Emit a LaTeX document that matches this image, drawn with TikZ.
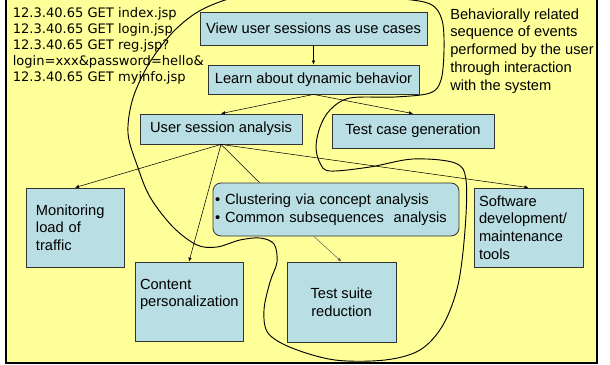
\documentclass[tikz,border=0pt]{standalone}
\usepackage{fontspec}
\setmainfont{Liberation Sans}
\newfontfamily\logfont{DejaVu Sans}
\usetikzlibrary{arrows.meta,calc}
\definecolor{slidebg}{RGB}{255,255,153}
\definecolor{boxblue}{RGB}{185,222,227}
\tikzset{
	box/.style={draw=black!80, fill=boxblue, line width=0.6pt, inner sep=0pt, font=\fontsize{11}{13.2}\selectfont},
	link/.style={-{Latex[length=3pt,width=2.6pt]}, line width=0.4pt}
}

\begin{document}
\begin{tikzpicture}[x=0.75pt,y=-0.75pt]
	\useasboundingbox (0,0) rectangle (610,364);
	\draw[fill=slidebg, line width=1.5pt] (6,-5) rectangle (597,363);
	\node[anchor=base west, align=left, inner sep=0pt, font=\logfont\fontsize{9.8}{11.85}\selectfont] (log) at (12.5,81)
		{12.3.40.65 GET index.jsp\\12.3.40.65 GET login.jsp\\12.3.40.65 GET reg.jsp?\\login=xxx\&password=hello\&\\12.3.40.65 GET myinfo.jsp};
	\node[anchor=base west, align=left, inner sep=0pt, font=\fontsize{11}{13.3}\selectfont] (note) at (450,90)
		{Behaviorally related\\sequence of events\\performed by the user\\through interaction\\with the system};
	\draw[line width=0.7pt] plot[smooth cycle, tension=0.55] coordinates {
		(150,62) (175,30) (205,8) (250,-6) (320,-10) (395,-2) (430,4) (442,20) (444,50) (441,80) (430,93)
		(395,97) (350,98) (330,110) (320,127) (316,147) (320,163) (330,171) (370,167) (413,159) (455,163)
		(466,180) (465,230) (458,285) (443,325) (420,350) (385,360) (335,360) (292,348) (268,333) (264,310)
		(270,282) (277,262) (274,244) (260,238) (240,240) (217,247) (197,245) (173,227) (150,197) (137,165)
		(128,133) (133,98)};
	\node[box, minimum width=170.25pt, minimum height=24.75pt] (view) at (313.5,28.5) {View user sessions as use cases};
	\node[box, minimum width=158.25pt, minimum height=21.75pt] (learn) at (313.5,79.5) {Learn about dynamic behavior};
	\node[box, minimum width=121.5pt, minimum height=22.5pt] (usa) at (221,129) {User session analysis};
	\node[box, minimum width=121.5pt, minimum height=25.5pt] (tcg) at (413,131) {Test case generation};
	\node[box, minimum height=59.25pt, inner xsep=7.5pt, text width=58.5pt, align=left] (monitor) at (75,227.5) {Monitoring\\load of\\traffic};
	\node[box, minimum height=59.25pt, inner xsep=3.75pt, text width=73.5pt, align=left] (content) at (189,301.5) {Content\\personalization\\~};
	\node[box, rounded corners=6pt, minimum height=39.75pt, inner xsep=1.5pt, text width=181.5pt, align=left] (cluster) at (336,209.5)
		{\textbullet\ Clustering via concept analysis\\\textbullet\ Common subsequences~ analysis};
	\node[box, minimum width=81.75pt, minimum height=60pt, align=center] (suite) at (341.5,302) {Test suite\\reduction};
	\node[box, minimum height=59.25pt, inner xsep=3.75pt, text width=74.25pt, align=left] (software) at (528.5,227.5) {Software\\development/\\maintenance\\tools};
	\draw[link] (view.south) -- (learn.north);
	\draw[link] (learn.south) -- (usa.north);
	\draw[link] (learn.south) -- (tcg.north);
	\draw[link] (usa.south) -- (monitor.north);
	\draw[link] (usa.south) -- (content.north);
	\draw[line width=0.4pt] (usa.south) -- ($(cluster.north west)!.19!(cluster.north east)$);
	\draw[link] (usa.south) -- (software.north);
	\draw[link, draw=black!60] ($(cluster.south west)!.41!(cluster.south east)$) -- (suite.north);
\end{tikzpicture}
\end{document}
